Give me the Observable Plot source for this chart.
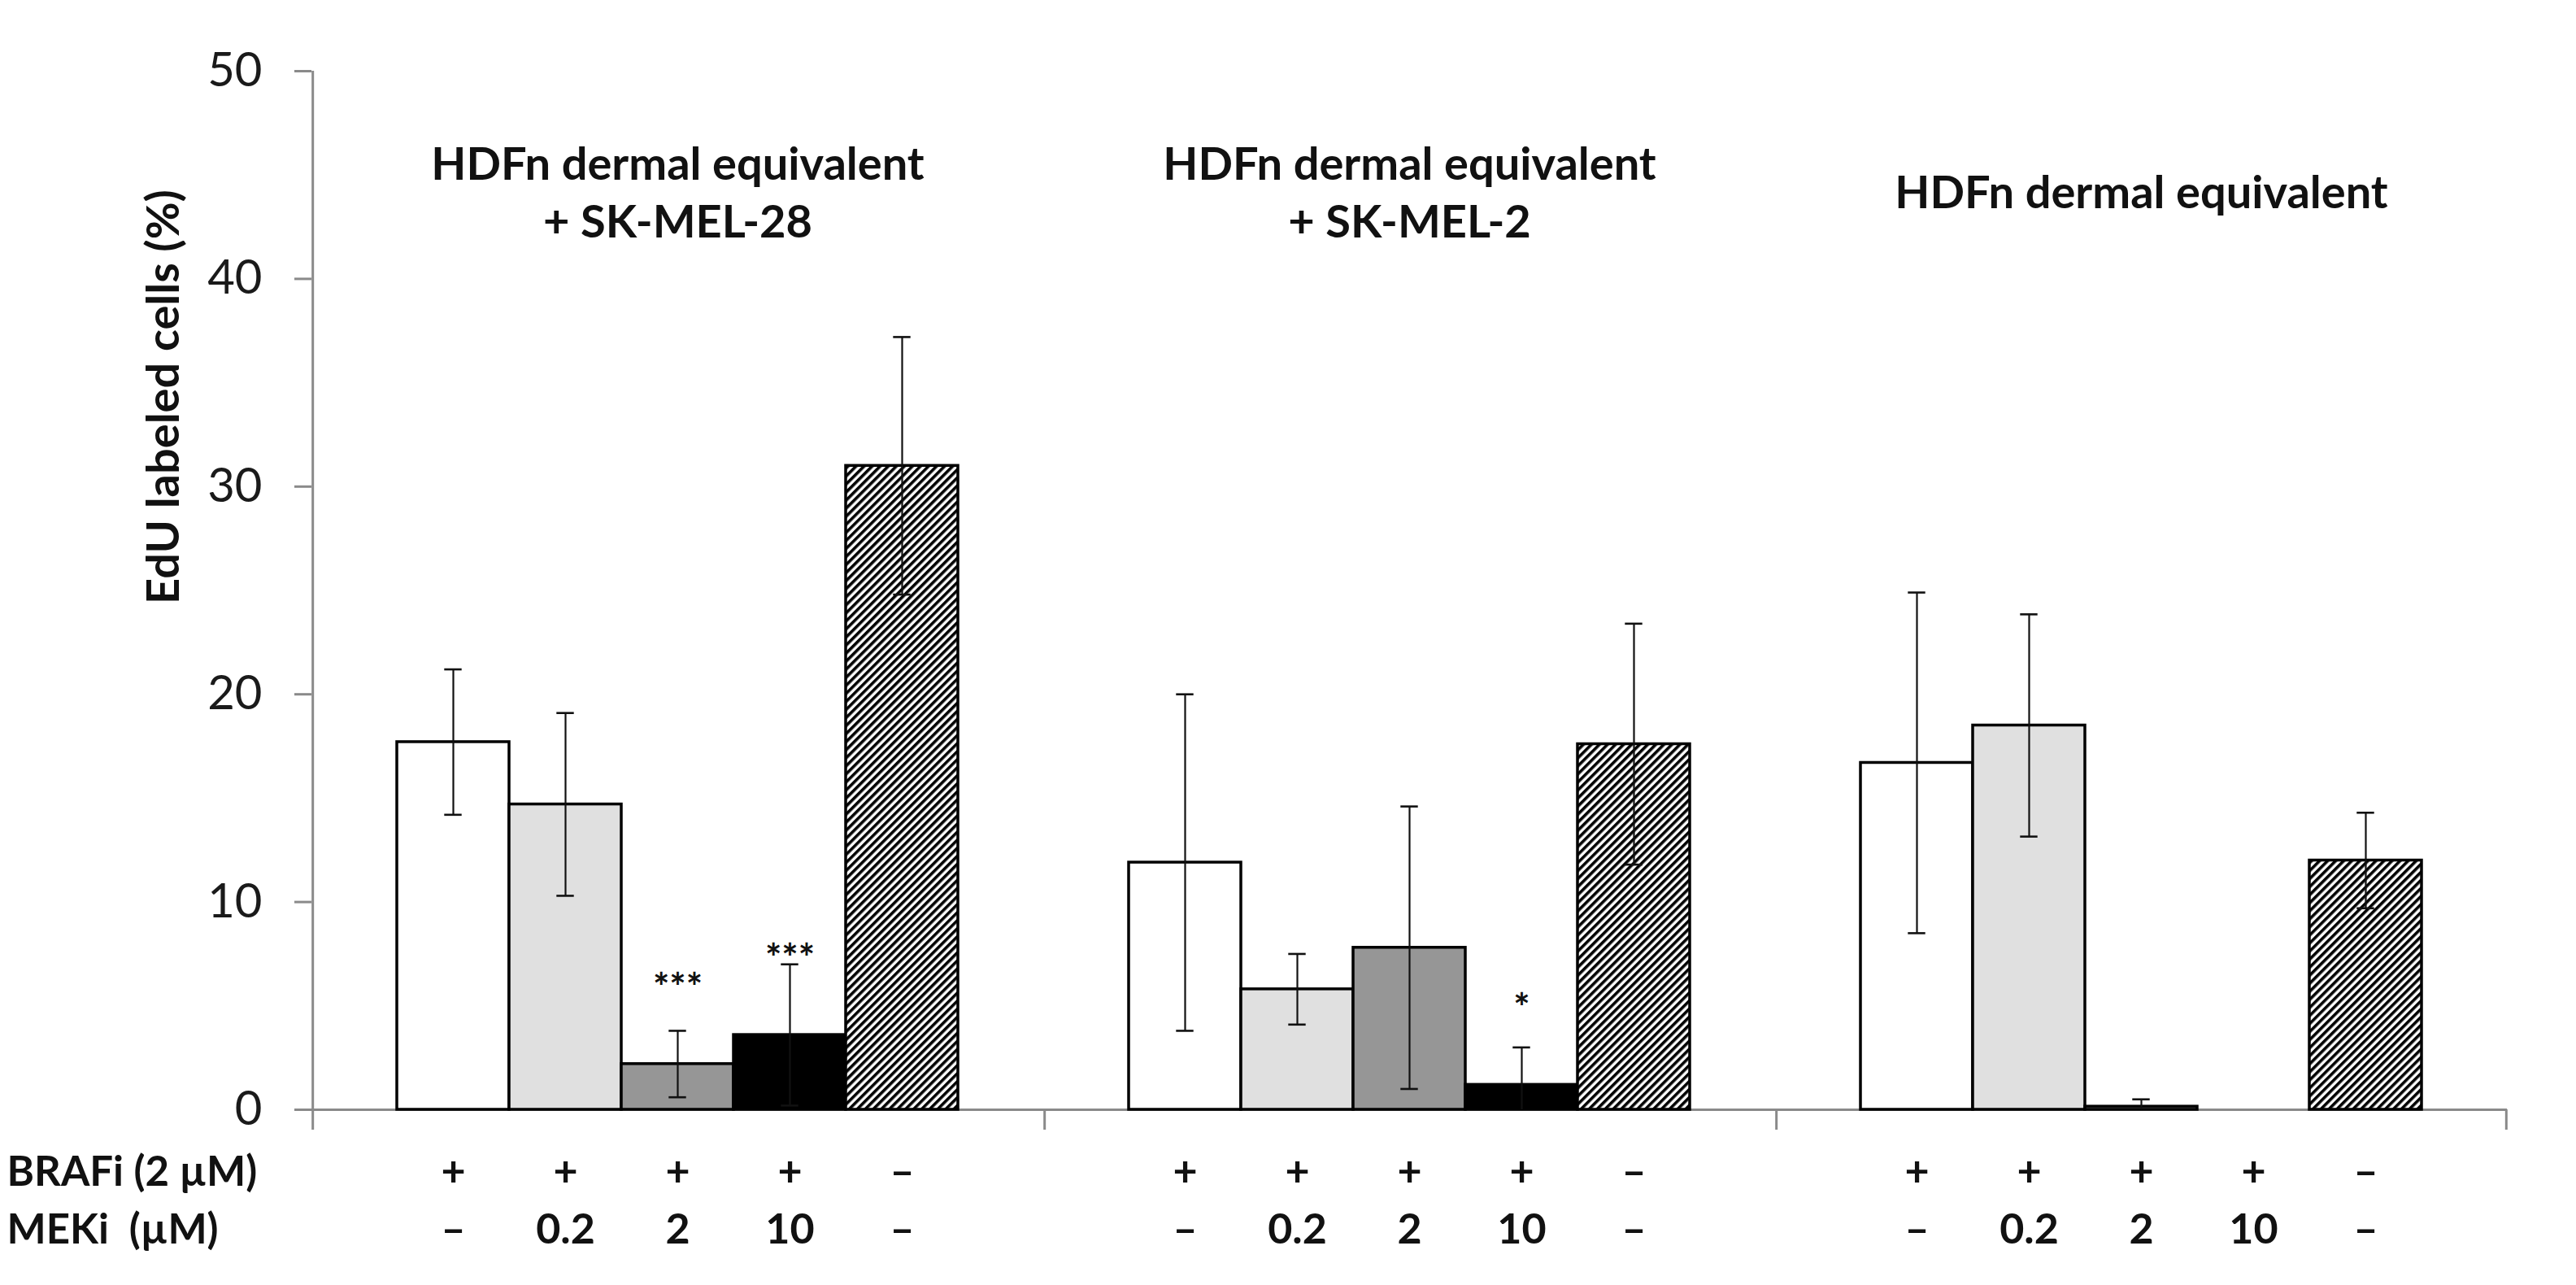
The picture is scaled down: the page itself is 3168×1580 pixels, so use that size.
<!DOCTYPE html>
<html><head><meta charset="utf-8">
<script src="https://cdn.jsdelivr.net/npm/d3@7"></script>
<script src="https://cdn.jsdelivr.net/npm/@observablehq/plot@0.6"></script>
<style>
html,body{margin:0;padding:0;background:#fff;}
svg text{white-space:pre;}
</style></head><body><div id="chart"></div>
<script>
// ---- data ----
const groups = ["HDFn dermal equivalent + SK-MEL-28", "HDFn dermal equivalent + SK-MEL-2", "HDFn dermal equivalent"];
const groupTitles = ["HDFn dermal equivalent\n+ SK-MEL-28", "HDFn dermal equivalent\n+ SK-MEL-2", "HDFn dermal equivalent"];
const treatments = ["BRAFi", "BRAFi + MEKi 0.2", "BRAFi + MEKi 2", "BRAFi + MEKi 10", "Control"];
const brafLabels = ["+", "+", "+", "+", "–"];
const mekLabels = ["–", "0.2", "2", "10", "–"];
const meanSKMEL28 = [17.7, 14.7, 2.2, 3.6, 31.0];
const errSKMEL28 = [3.5, 4.4, 1.6, 3.4, 6.2];
const meanSKMEL2 = [11.9, 5.8, 7.8, 1.2, 17.6];
const errSKMEL2 = [8.1, 1.7, 6.8, 1.8, 5.8];
const meanHDFn = [16.7, 18.5, 0.15, 0, 12.0];
const errHDFn = [8.2, 5.35, 0.35, 0, 2.3];
const sigSKMEL28 = ["", "", "***", "***", ""];
const sigSKMEL2 = ["", "", "", "*", ""];
const sigHDFn = ["", "", "", "", ""];
const yDomain = [0, 50];
const yTicks = [0, 10, 20, 30, 40, 50];
const yLabel = "EdU labeled cells (%)";
const rowLabels = ["BRAFi (2 µM)", "MEKi  (µM)"];

// ---- styles ----
const fills = ["#ffffff", "#e0e0e0", "#969696", "#000000", "url(#hatch)"];
const W = 3168, H = 1580, ML = 383, MR = 85, MT = 87, MB = 216;
const padOuter = 0.747;
const facetW = (W - ML - MR) / groups.length;
const step = facetW / (treatments.length + 2 * padOuter);
const edge = step * (padOuter + 0.5);
const capW = 22;
const capInset = (step - capW) / 2;
const axisGray = "#8a8a8a";

const means = [meanSKMEL28, meanSKMEL2, meanHDFn];
const errs = [errSKMEL28, errSKMEL2, errHDFn];
const sigs = [sigSKMEL28, sigSKMEL2, sigHDFn];
const rows = groups.flatMap((g, gi) => treatments.map((t, ti) => ({
  group: g, treatment: t, gi, ti,
  mean: means[gi][ti], err: errs[gi][ti], sig: sigs[gi][ti],
  braf: brafLabels[ti], mek: mekLabels[ti]
})));
const last = treatments.length - 1;

const chart = Plot.plot({
  width: W, height: H,
  marginLeft: ML, marginRight: MR, marginTop: MT, marginBottom: MB,
  style: {fontFamily: "Lato, 'Open Sans', sans-serif", fontSize: "58px", color: "#1a1a1a", background: "white"},
  fx: {domain: groups, paddingInner: 0, paddingOuter: 0, axis: null},
  x: {domain: treatments, paddingInner: 0, paddingOuter: padOuter, axis: null},
  y: {domain: yDomain},
  color: {type: "ordinal", domain: treatments, range: fills},
  marks: [
    Plot.ruleY([0], {stroke: axisGray, strokeWidth: 3}),
    // y axis line with the left category tick
    Plot.ruleX(rows.filter(d => d.gi === 0 && d.ti === 0), {x: "treatment", fx: "group", y1: yDomain[1], y2: 0, dx: -edge, insetBottom: -25, stroke: axisGray, strokeWidth: 3}),
    // category boundary ticks
    Plot.ruleX(rows.filter(d => d.gi > 0 && d.ti === 0), {x: "treatment", fx: "group", y1: 0, y2: 0, dx: -edge, insetBottom: -25, stroke: axisGray, strokeWidth: 3}),
    Plot.ruleX(rows.filter(d => d.gi === groups.length - 1 && d.ti === last), {x: "treatment", fx: "group", y1: 0, y2: 0, dx: edge, insetBottom: -25, stroke: axisGray, strokeWidth: 3}),
    Plot.axisY({ticks: yTicks, tickSize: 21, tickPadding: 40, fontSize: 58, stroke: axisGray, strokeWidth: 3, fill: "#1a1a1a", label: null}),
    Plot.barY(rows.filter(d => d.mean > 0), {x: "treatment", y: "mean", fx: "group", fill: "treatment", stroke: "black", strokeWidth: 3.5}),
    Plot.ruleX(rows.filter(d => d.err > 0), {x: "treatment", fx: "group", y1: d => Math.max(0, d.mean - d.err), y2: d => d.mean + d.err, stroke: "#111", strokeWidth: 2.2}),
    Plot.tickY(rows.filter(d => d.err > 0), {x: "treatment", fx: "group", y: d => d.mean + d.err, insetLeft: capInset, insetRight: capInset, stroke: "#111", strokeWidth: 2.6}),
    Plot.tickY(rows.filter(d => d.err > 0 && d.mean - d.err > 0), {x: "treatment", fx: "group", y: d => d.mean - d.err, insetLeft: capInset, insetRight: capInset, stroke: "#111", strokeWidth: 2.6}),
    Plot.text(rows.filter(d => d.sig), {x: "treatment", fx: "group", y: "mean", text: "sig", dy: -93, fontSize: 48, fontWeight: "bold", fill: "#111"}),
    Plot.text(groups, {fx: d => d, text: (d, i) => groupTitles[i], frameAnchor: "top", dy: 146, lineAnchor: "middle", lineHeight: 1.28, fontSize: 56, fontWeight: "bold", fill: "#111"}),
    Plot.text(rows, {x: "treatment", fx: "group", text: "braf", frameAnchor: "bottom", dy: 93, fontSize: 52, fontWeight: "bold", fill: "#111"}),
    Plot.text(rows, {x: "treatment", fx: "group", text: "mek", frameAnchor: "bottom", dy: 164, fontSize: 52, fontWeight: "bold", fill: "#111"}),
    Plot.text([rowLabels[0]], {fx: () => groups[0], frameAnchor: "bottom-left", textAnchor: "start", dx: 8 - ML, dy: 93, fontSize: 51, fontWeight: "bold", fill: "#111"}),
    Plot.text([rowLabels[1]], {fx: () => groups[0], frameAnchor: "bottom-left", textAnchor: "start", dx: 8 - ML, dy: 164, fontSize: 51, fontWeight: "bold", fill: "#111"}),
    Plot.text([yLabel], {fx: () => groups[0], frameAnchor: "left", rotate: -90, dx: 202 - ML, dy: 17, fontSize: 56, fontWeight: "bold", fill: "#111"})
  ]
});

const defs = d3.select(chart).insert("defs", ":first-child");
const pat = defs.append("pattern").attr("id", "hatch").attr("patternUnits", "userSpaceOnUse")
  .attr("width", 7).attr("height", 7).attr("patternTransform", "rotate(45)");
pat.append("rect").attr("width", 7).attr("height", 7).attr("fill", "white");
pat.append("rect").attr("width", 3.6).attr("height", 7).attr("fill", "black");

document.getElementById("chart").appendChild(chart);
</script>
</body></html>
